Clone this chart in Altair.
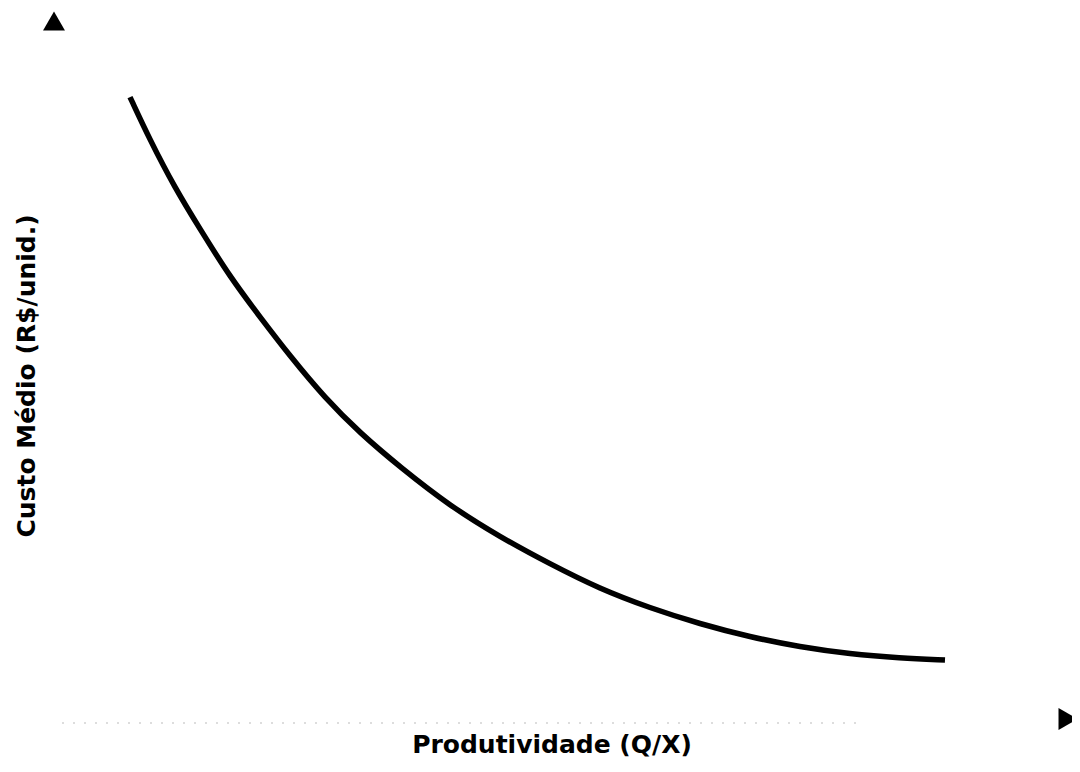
import altair as alt
import pandas as pd

# Curve: productivity (x) vs average cost (y)
produtividade = [0.70, 0.90, 1.15, 1.40, 1.70, 2.00, 2.30, 2.65, 3.00, 3.40,
                 3.90, 4.40, 4.90, 5.40, 5.90, 6.40, 6.90, 7.40, 7.90, 8.40, 8.85]
custo_medio = [8.871, 8.257, 7.571, 6.986, 6.300, 5.729, 5.171, 4.571, 4.071, 3.586,
               3.029, 2.586, 2.200, 1.843, 1.571, 1.343, 1.157, 1.014, 0.914, 0.857, 0.829]

# Axis arrow heads
arrow_x = [-0.06, 10.08]
arrow_y = [9.957, -0.014]
arrow_shape = ["triangle-up", "triangle-right"]

# Faint x-axis baseline
base_x = [0.02]
base_x2 = [8.05]
base_y = [-0.07]

# Titles
title_text = ["Produtividade (Q/X)"]
title_x = [4.92]
title_y = [-0.386]
ytitle_text = ["Custo Médio (R$/unid.)"]
ytitle_x = [-0.33]
ytitle_y = [4.886]

X_DOMAIN = [-0.52, 10.12]
Y_DOMAIN = [-0.6, 10.143]

xs = alt.Scale(domain=X_DOMAIN, nice=False, zero=False)
ys = alt.Scale(domain=Y_DOMAIN, nice=False, zero=False)

curve_df = pd.DataFrame({"x": produtividade, "y": custo_medio})
arrow_df = pd.DataFrame({"x": arrow_x, "y": arrow_y, "shape": arrow_shape})
base_df = pd.DataFrame({"x": base_x, "x2": base_x2, "y": base_y})
xt_df = pd.DataFrame({"t": title_text, "x": title_x, "y": title_y})
yt_df = pd.DataFrame({"t": ytitle_text, "x": ytitle_x, "y": ytitle_y})

curve = alt.Chart(curve_df).mark_line(
    color="black", strokeWidth=5.5, interpolate="basis", strokeCap="butt"
).encode(
    x=alt.X("x:Q", scale=xs, axis=None),
    y=alt.Y("y:Q", scale=ys, axis=None),
)

base = alt.Chart(base_df).mark_rule(
    color="#999999", strokeWidth=1.5, strokeDash=[2, 9], opacity=0.45
).encode(
    x=alt.X("x:Q", scale=xs, axis=None),
    x2="x2:Q",
    y=alt.Y("y:Q", scale=ys, axis=None),
)

arrows = alt.Chart(arrow_df).mark_point(
    filled=True, color="black", size=480, opacity=1
).encode(
    x=alt.X("x:Q", scale=xs, axis=None),
    y=alt.Y("y:Q", scale=ys, axis=None),
    shape=alt.Shape("shape:N", scale=None, legend=None),
)

xtitle = alt.Chart(xt_df).mark_text(
    font="DejaVu Sans", fontWeight="bold", fontSize=25, color="black",
    align="center", baseline="middle",
).encode(
    x=alt.X("x:Q", scale=xs, axis=None),
    y=alt.Y("y:Q", scale=ys, axis=None),
    text="t:N",
)

ytitle = alt.Chart(yt_df).mark_text(
    font="DejaVu Sans", fontWeight="bold", fontSize=25, color="black",
    align="center", baseline="middle", angle=270,
).encode(
    x=alt.X("x:Q", scale=xs, axis=None),
    y=alt.Y("y:Q", scale=ys, axis=None),
    text="t:N",
)

chart = alt.layer(base, curve, arrows, xtitle, ytitle).properties(
    width=1064, height=752, padding=0, background="white",
    autosize=alt.AutoSizeParams(type="none"),
).configure_view(stroke=None)

chart.save("out.html", embed_options={"renderer": "svg", "actions": False})
